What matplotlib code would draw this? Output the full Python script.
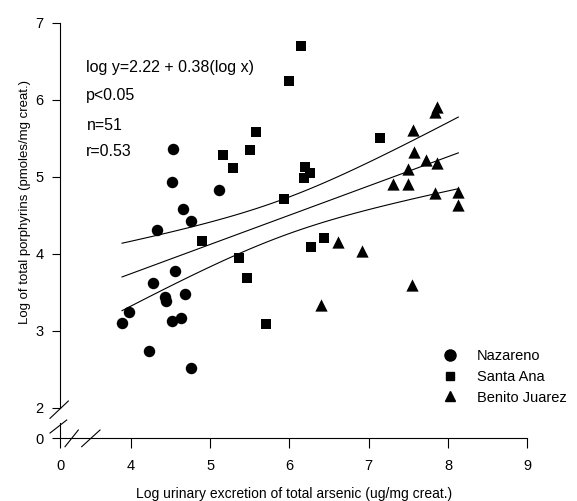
import numpy as np
import matplotlib
matplotlib.use("Agg")
import matplotlib.pyplot as plt

plt.rcParams['font.family'] = ['Liberation Sans', 'DejaVu Sans']

# values (log arsenic, log porphyrins)
naz_x = [4.53, 4.52, 5.11, 4.66, 4.76, 4.33, 4.56, 4.28, 4.43, 4.45, 4.69,
         3.98, 3.89, 4.52, 4.63, 4.23, 4.76]
naz_y = [5.36, 4.93, 4.83, 4.58, 4.43, 4.31, 3.77, 3.62, 3.44, 3.39, 3.48,
         3.24, 3.10, 3.13, 3.17, 2.74, 2.52]
sa_x = [6.15, 6.00, 5.58, 5.50, 5.16, 5.29, 6.20, 6.26, 6.18, 5.93, 4.90,
        6.44, 6.27, 5.37, 5.46, 5.70, 7.14]
sa_y = [6.70, 6.24, 5.58, 5.35, 5.28, 5.11, 5.12, 5.05, 4.98, 4.71, 4.16,
        4.20, 4.09, 3.94, 3.68, 3.09, 5.50]
bj_x = [7.86, 7.84, 7.56, 7.57, 7.72, 7.86, 7.49, 7.31, 7.49, 7.83, 8.13,
        8.12, 6.61, 6.92, 7.54, 6.40]
bj_y = [5.91, 5.84, 5.61, 5.32, 5.22, 5.18, 5.10, 4.91, 4.91, 4.79, 4.80,
        4.63, 4.15, 4.03, 3.59, 3.33]

intercept = 2.22
slope = 0.38
x_ticks = [0, 4, 5, 6, 7, 8, 9]
y_ticks = [0, 2, 3, 4, 5, 6, 7]

# broken axes: 0..3.5 on x and 0..2 on y are squeezed
x_brk, x_low = 3.5, 3.108
y_brk, y_low = 2.0, 1.6065


def fwd_x(v):
    v = np.asarray(v, float)
    return np.where(v >= x_brk, v, x_low + v * (x_brk - x_low) / x_brk)


def inv_x(v):
    v = np.asarray(v, float)
    return np.where(v >= x_brk, v, (v - x_low) * x_brk / (x_brk - x_low))


def fwd_y(v):
    v = np.asarray(v, float)
    return np.where(v >= y_brk, v, y_low + v * (y_brk - y_low) / y_brk)


def inv_y(v):
    v = np.asarray(v, float)
    return np.where(v >= y_brk, v, (v - y_low) * y_brk / (y_brk - y_low))


fig = plt.figure(figsize=(5.77, 5.01), dpi=100)
ax = fig.add_axes([0.104, 0.1257, 0.8099, 0.829])
ax.set_xscale('function', functions=(fwd_x, inv_x))
ax.set_yscale('function', functions=(fwd_y, inv_y))

ax.scatter(naz_x, naz_y, marker='o', s=68, color='black', lw=0, zorder=3)
ax.scatter(sa_x, sa_y, marker='s', s=56, color='black', lw=0, zorder=3)
ax.scatter(bj_x, bj_y, marker='^', s=78, color='black', lw=0, zorder=3)

# regression line with 95% confidence band
all_x = np.array(naz_x + sa_x + bj_x)
all_y = np.array(naz_y + sa_y + bj_y)
n = len(all_x)
resid = all_y - (intercept + slope * all_x)
s_res = np.sqrt(np.sum(resid ** 2) / (n - 2))
sxx = np.sum((all_x - all_x.mean()) ** 2)
xx = np.linspace(all_x.min(), all_x.max(), 100)
yy = intercept + slope * xx
half = 2.01 * s_res * np.sqrt(1.0 / n + (xx - all_x.mean()) ** 2 / sxx)
ax.plot(xx, yy, color='black', lw=0.8)
ax.plot(xx, yy + half, color='black', lw=0.8)
ax.plot(xx, yy - half, color='black', lw=0.8)

ax.set_xlim(0, 9)
ax.set_ylim(0, 7)
ax.set_xticks(x_ticks)
ax.set_yticks(y_ticks)
ax.tick_params(axis='x', length=7, width=0.8, labelsize=10.5, pad=8)
ax.tick_params(axis='y', length=6, width=0.8, labelsize=10.5, pad=6)
ax.minorticks_off()

ax.spines['top'].set_visible(False)
ax.spines['right'].set_visible(False)
ax.spines['left'].set_bounds(2, 7)
ax.spines['left'].set_linewidth(0.8)
ax.spines['bottom'].set_linewidth(0.8)
ax.plot([0, 0], [0, 1], color='black', lw=0.8, clip_on=False)

# break marks
brk = dict(color='black', lw=0.8, transform=ax.transAxes, clip_on=False)
ax.plot([-0.0214, 0.0178], [0.0474, 0.0891], **brk)
ax.plot([-0.0214, 0.0143], [0.012, 0.0433], **brk)
ax.plot([0.0107, 0.0392], [-0.0209, 0.0193], **brk)
ax.plot([0.0464, 0.0856], [-0.0209, 0.0193], **brk)

ax.set_xlabel('Log urinary excretion of total arsenic (ug/mg creat.)', fontsize=10, labelpad=10)
ax.set_ylabel('Log of total porphyrins (pmoles/mg creat.)', fontsize=9.5)
ax.yaxis.set_label_coords(-0.062, 0.568)

ax.text(0.0556, 0.891, 'log y=2.22 + 0.38(log x)', transform=ax.transAxes, fontsize=11.5, va='center')
ax.text(0.0556, 0.824, 'p<0.05', transform=ax.transAxes, fontsize=11.5, va='center')
ax.text(0.0578, 0.752, 'n=51', transform=ax.transAxes, fontsize=11.5, va='center')
ax.text(0.0556, 0.691, 'r=0.53', transform=ax.transAxes, fontsize=11.5, va='center')

h1 = plt.Line2D([], [], ls='none', marker='o', ms=8, color='black')
h2 = plt.Line2D([], [], ls='none', marker='s', ms=6, color='black')
h3 = plt.Line2D([], [], ls='none', marker='^', ms=6.8, color='black')
ax.legend([h1, h2, h3], ['Nazareno', 'Santa Ana', 'Benito Juarez'],
          loc='center left', bbox_to_anchor=(0.82, 0.147), frameon=False,
          handlelength=1.0, handletextpad=1.3, labelspacing=0.45,
          borderpad=0, borderaxespad=0, fontsize=10.5)

fig.savefig('out.png', dpi=100)
